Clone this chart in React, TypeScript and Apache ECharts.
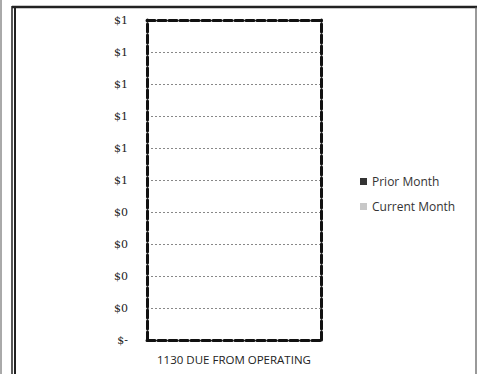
import React, { useEffect, useRef } from "react";
import * as echarts from "echarts";

const categories = ["1130 DUE FROM OPERATING"];
const seriesNames = ["Prior Month", "Current Month"];
const priorMonth = [0];
const currentMonth = [0];
const yMin = 0;
const yMax = 1;
const yInterval = 0.1;

const fmt = (v: number) => (Math.abs(v) < 1e-9 ? "$-" : "$" + Math.round(v));

export default function App() {
  const ref = useRef<HTMLDivElement>(null);
  useEffect(() => {
    if (!ref.current) return;
    const chart = echarts.init(ref.current, undefined, { renderer: "svg" });
    const dashed = { color: "#111", width: 3, type: [8, 3] as any };
    chart.setOption({
      animation: false,
      backgroundColor: "#fff",
      graphic: [
        { type: "line", shape: { x1: 1, y1: 0, x2: 1, y2: 374 }, style: { stroke: "#555", lineWidth: 1 } },
        { type: "line", shape: { x1: 12, y1: 6, x2: 12, y2: 374 }, style: { stroke: "#222", lineWidth: 1.5 } },
        { type: "line", shape: { x1: 15, y1: 6, x2: 15, y2: 374 }, style: { stroke: "#222", lineWidth: 2 } },
        { type: "line", shape: { x1: 12, y1: 7, x2: 477, y2: 7 }, style: { stroke: "#222", lineWidth: 2.5 } },
        { type: "line", shape: { x1: 476, y1: 7, x2: 476, y2: 374 }, style: { stroke: "#555", lineWidth: 1.2 } },
      ],
      grid: { left: 147, right: 156, top: 20, bottom: 34, containLabel: false },
      legend: {
        orient: "vertical",
        left: 355,
        top: 169,
        itemWidth: 7,
        itemHeight: 7,
        itemGap: 10,
        icon: "rect",
        textStyle: { fontFamily: "Open Sans", fontSize: 12, color: "#333", lineHeight: 15 },
        data: seriesNames,
      },
      xAxis: [
        {
          type: "category",
          data: categories,
          axisLine: { show: true, onZero: false, lineStyle: dashed },
          axisTick: { show: false },
          axisLabel: { fontFamily: "Open Sans", fontSize: 11.5, color: "#222", margin: 13 },
        },
        {
          type: "category",
          position: "top",
          data: categories,
          axisLine: { show: true, onZero: false, lineStyle: dashed },
          axisTick: { show: false },
          axisLabel: { show: false },
        },
      ],
      yAxis: [
        {
          type: "value",
          min: yMin,
          max: yMax,
          interval: yInterval,
          axisLine: { show: true, onZero: false, lineStyle: dashed },
          axisTick: { show: false },
          splitLine: { show: true, lineStyle: { color: "#888", width: 1, type: [2, 2] } },
          axisLabel: {
            formatter: fmt,
            fontFamily: "DejaVu Serif",
            fontSize: 11,
            color: "#222",
            margin: 19,
          },
        },
        {
          type: "value",
          position: "right",
          min: yMin,
          max: yMax,
          interval: yInterval,
          axisLine: { show: true, onZero: false, lineStyle: dashed },
          axisTick: { show: false },
          splitLine: { show: false },
          axisLabel: { show: false },
        },
      ],
      series: [
        { name: seriesNames[0], type: "bar", data: priorMonth, itemStyle: { color: "#333" } },
        { name: seriesNames[1], type: "bar", data: currentMonth, itemStyle: { color: "#c8c8c8" } },
      ],
    });
    return () => chart.dispose();
  }, []);
  return <div ref={ref} style={{ position: "fixed", left: 0, top: 0, width: 477, height: 374 }} />;
}
